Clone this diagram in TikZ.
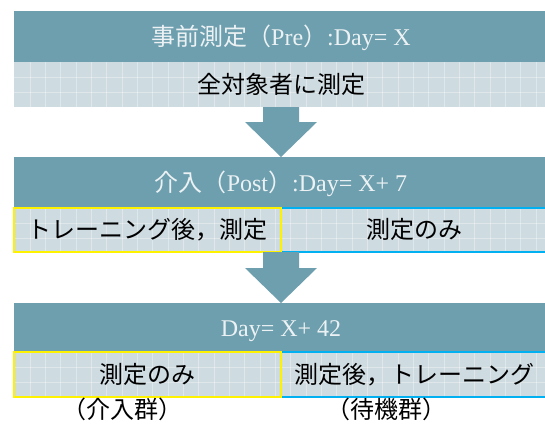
\documentclass[tikz,border=0pt]{standalone}
\usepackage{fontspec}
\setmainfont{Liberation Serif}
\newfontfamily\jp{Noto Sans CJK JP}
\newcommand{\J}[1]{{\jp #1}}
\definecolor{hdr}{RGB}{110,159,174}
\definecolor{band}{RGB}{206,219,225}
\definecolor{ylw}{RGB}{255,242,0}
\definecolor{blu}{RGB}{0,176,240}
\definecolor{hdrtext}{RGB}{236,242,244}
\tikzset{
  hdrbox/.style={fill=hdr},
  bandbox/.style={fill=band},
  gridln/.style={draw=white, opacity=0.35, line width=0.6pt},
  ylwbox/.style={draw=ylw, line width=2.5pt},
  blubox/.style={draw=blu, line width=2.5pt},
  hdrtxt/.style={text=hdrtext, font=\fontsize{24}{28}\selectfont, inner sep=0pt, anchor=base},
  bodytxt/.style={text=black, font=\fontsize{24}{28}\selectfont, inner sep=0pt, anchor=base},
  bigarrow/.style={fill=hdr}
}
\begin{document}
\begin{tikzpicture}[x=1pt,y=-1pt]
\useasboundingbox (0,0) rectangle (545,423);
\clip (0,0) rectangle (545,423);
% headers
\fill[hdrbox] (14,11) rectangle (560,62);
\fill[hdrbox] (14,157) rectangle (560,208);
\fill[hdrbox] (14,303) rectangle (560,352);
% bands
\fill[bandbox] (14,62) rectangle (560,107);
\fill[bandbox] (14,208) rectangle (560,252);
\fill[bandbox] (14,352) rectangle (560,397);
% grid texture
\foreach \t/\b in {62/107, 208/252, 352/397}{
  \foreach \k in {0,...,34}{
    \draw[gridln] ({30+15.33*\k},\t) -- ({30+15.33*\k},\b);
  }
  \draw[gridln] (14,\t+15) -- (560,\t+15);
  \draw[gridln] (14,\t+30) -- (560,\t+30);
}
% sub-box borders
\draw[blubox] (281,208) rectangle (552,252);
\draw[ylwbox] (14,208) rectangle (281,252);
\draw[blubox] (281,352) rectangle (552,397);
\draw[ylwbox] (14,352) rectangle (281,397);
% block arrows
\fill[bigarrow] (263,107) -- (299,107) -- (299,122) -- (317,122) -- (281,157) -- (245,122) -- (263,122) -- cycle;
\fill[bigarrow] (263,252) -- (299,252) -- (299,268) -- (317,268) -- (281,303) -- (245,268) -- (263,268) -- cycle;
% texts
\node[hdrtxt] (t1) at (281,45) {\J{事前測定（}Pre\J{）}:Day= X};
\node[bodytxt] (b1) at (281,93) {\J{全対象者に測定}};
\node[hdrtxt] (t2) at (281,191) {\J{介入（}Post\J{）}:Day= X+ 7};
\node[bodytxt] (b2l) at (147.5,238.5) {\J{トレーニング後，測定}};
\node[bodytxt] (b2r) at (414.5,238.5) {\J{測定のみ}};
\node[hdrtxt] (t3) at (281,336) {Day= X+ 42};
\node[bodytxt] (b3l) at (147.5,383) {\J{測定のみ}};
\node[bodytxt] (b3r) at (414.5,383) {\J{測定後，トレーニング}};
\node[bodytxt] (g1) at (122,418) {\J{（介入群）}};
\node[bodytxt] (g2) at (386,418) {\J{（待機群）}};
\end{tikzpicture}
\end{document}
